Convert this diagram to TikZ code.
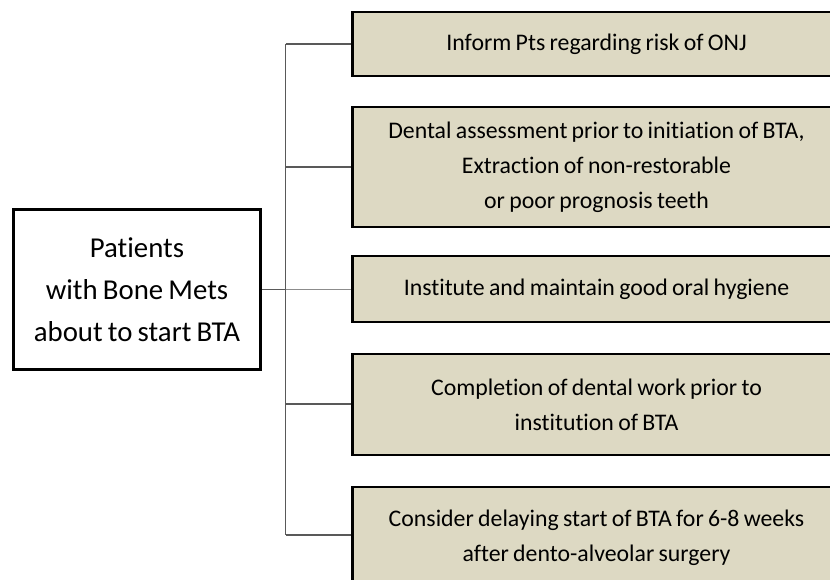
\documentclass[tikz,border=0pt]{standalone}
\usepackage{fontspec}
\setmainfont{Carlito}[Ligatures=NoCommon, WordSpace=0.8]
\begin{document}
\begin{tikzpicture}[x=1pt,y=-1pt,
  stepbox/.style={draw=black, line width=2.6pt, fill=tanfill, rectangle,
    align=center, inner sep=0pt, minimum width=488pt,
    font=\fontsize{23.8}{35}\selectfont},
  startbox/.style={draw=black, line width=2.6pt, fill=white, rectangle,
    align=center, inner sep=0pt, minimum width=247pt, minimum height=160pt,
    font=\fontsize{28.8}{42}\selectfont},
  branch/.style={draw=black!65, line width=1.1pt},
]
\definecolor{tanfill}{RGB}{221,217,195}
\useasboundingbox (0,0) rectangle (830,579);
\fill[white] (0,0) rectangle (830,579);

% patient group
\node[startbox] (lb) at (137,289.5) {Patients\\with Bone Mets\\about to start BTA};

% management steps
\node[stepbox, minimum height=64pt] (b1) at (596.5,44)
  {Inform Pts regarding risk of ONJ};
\node[stepbox, minimum height=120pt] (b2) at (596.5,167)
  {Dental assessment prior to initiation of BTA,\\Extraction of non-restorable\\or poor prognosis teeth};
\node[stepbox, minimum height=66pt] (b3) at (596.5,289)
  {Institute and maintain good oral hygiene};
\node[stepbox, minimum height=101pt] (b4) at (596.5,404.5)
  {Completion of dental work prior to\\institution of BTA};
\node[stepbox, minimum height=101pt] (b5) at (596.5,537.5)
  {Consider delaying start of BTA for 6-8 weeks\\after dento-alveolar surgery};

% branching tree
\coordinate (t1) at (285.5,44);
\coordinate (t2) at (285.5,167);
\coordinate (t3) at (285.5,289.5);
\coordinate (t4) at (285.5,404);
\coordinate (t5) at (285.5,535);

\draw[branch] (t1) -- (t5);
\draw[branch] (lb.east) -- (t3);
\draw[branch] (t1) -- (t1 -| b1.west);
\draw[branch] (t2) -- (t2 -| b2.west);
\draw[draw=black!45, line width=1.1pt] (t3) -- (t3 -| b3.west);
\draw[branch] (t4) -- (t4 -| b4.west);
\draw[branch] (t5) -- (t5 -| b5.west);
\end{tikzpicture}
\end{document}
